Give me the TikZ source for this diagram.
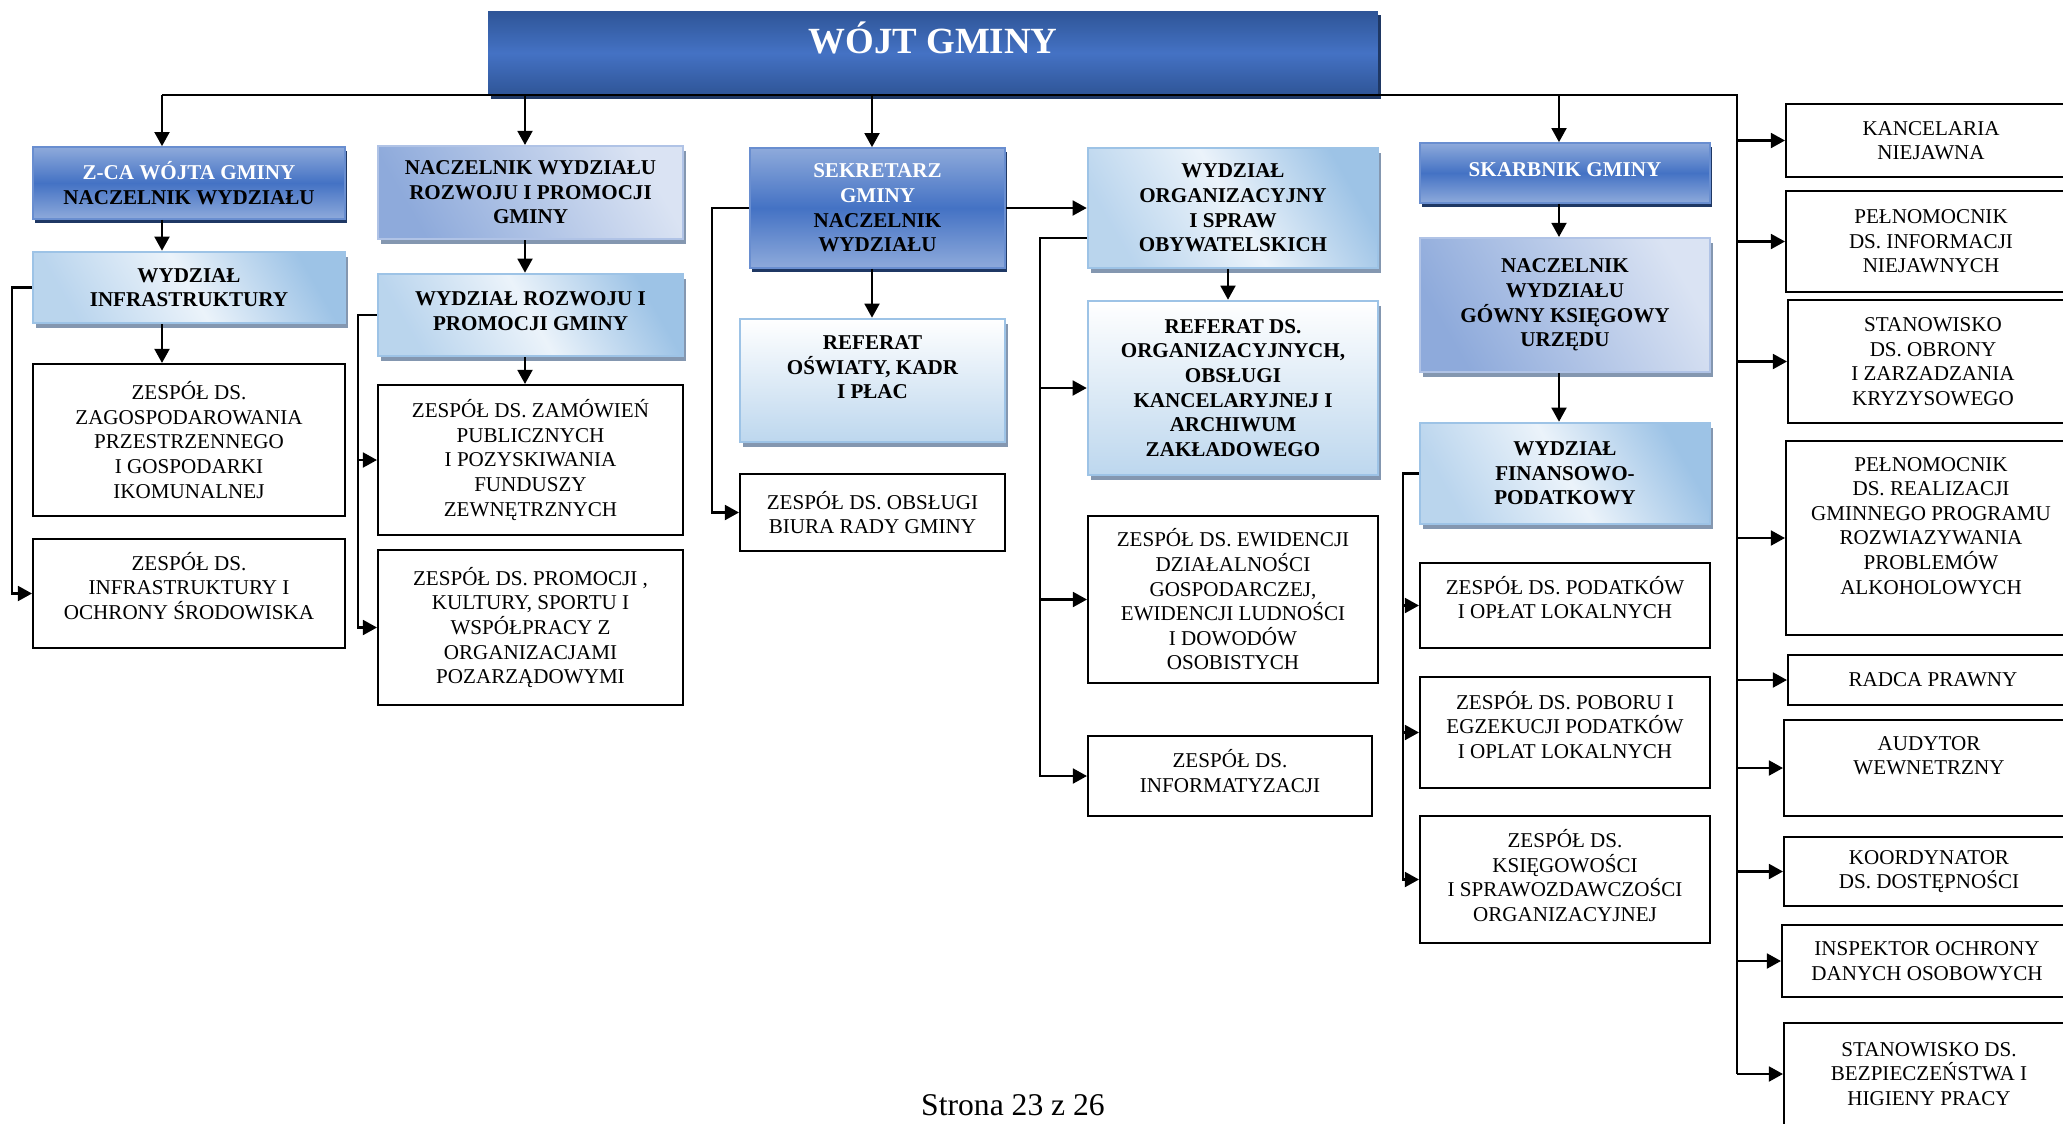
\documentclass[tikz,border=0pt]{standalone}
\usepackage{fontspec}
\setmainfont{Liberation Serif}
\usetikzlibrary{arrows.meta,shadows}
\definecolor{navy}{HTML}{2F5597}
\definecolor{royal}{HTML}{4472C4}
\definecolor{sky}{HTML}{8EAADB}
\definecolor{deep}{HTML}{1F3864}
\definecolor{pale}{HTML}{DEEBF7}
\definecolor{ice}{HTML}{9DC3E6}
\definecolor{lilac}{HTML}{DAE3F3}
\definecolor{steel}{HTML}{8497B0}
\definecolor{mist}{HTML}{BDD7EE}
\begin{document}
\begin{tikzpicture}[x=0.02cm, y=-0.02cm, font=\fontsize{12}{14}\selectfont,
	link/.style={line width=1.2pt},
	arr/.style={line width=1.2pt, -{Triangle[length=8pt,width=8.5pt]}},
	unitbox/.style={draw, line width=1.2pt, align=center, inner sep=2pt},
	chiefbox/.style={top color=navy, bottom color=navy, middle color=royal, text=white,
		font=\fontsize{21}{24}\selectfont\bfseries, inner sep=0pt,
		drop shadow={shadow xshift=0.06cm, shadow yshift=-0.08cm, fill=deep, opacity=1}},
	headbox/.style={draw=royal!80!white, line width=1pt, top color=sky, bottom color=sky, middle color=royal,
		align=center, inner sep=2pt, font=\fontsize{12}{14}\selectfont\bfseries,
		drop shadow={shadow xshift=0.04cm, shadow yshift=-0.08cm, fill=deep, opacity=1}},
	midbox/.style={draw=sky!70!white, line width=1.2pt, top color=sky, bottom color=lilac, shading angle=120,
		align=center, inner sep=2pt, font=\fontsize{12}{14}\selectfont\bfseries,
		drop shadow={shadow xshift=0.06cm, shadow yshift=-0.1cm, fill=steel, opacity=1}},
	deptbox/.style={draw=ice, line width=1.5pt, top color=ice, bottom color=ice!70!white, middle color=pale!60!white,
		shading angle=-60, align=center, inner sep=2pt, font=\fontsize{12}{14}\selectfont\bfseries,
		drop shadow={shadow xshift=0.06cm, shadow yshift=-0.1cm, fill=steel, opacity=1}},
	refbox/.style={draw=ice, line width=1.5pt, top color=white, bottom color=mist,
		align=center, inner sep=2pt, font=\fontsize{12}{14}\selectfont\bfseries,
		drop shadow={shadow xshift=0.06cm, shadow yshift=-0.1cm, fill=steel, opacity=1}}]
	\useasboundingbox (0,0) rectangle (2063,1123);
	\clip (0,0) rectangle (2063,1123);
	%top
	\node[chiefbox, minimum width=17.8cm, minimum height=1.68cm] (wojt) at (933,53) {\smash{WÓJT GMINY}};
	%first column
	\node[headbox, minimum width=6.24cm, minimum height=1.44cm] (zca) at (189,183)
	{\textcolor{white}{Z-CA WÓJTA GMINY}\\NACZELNIK WYDZIAŁU};
	\node[deptbox, minimum width=6.24cm, minimum height=1.42cm] (infra) at (189,287.5)
	{WYDZIAŁ\\INFRASTRUKTURY};
	\node[unitbox, minimum width=6.24cm, minimum height=3.04cm] (zagosp) at (189,440)
	{ZESPÓŁ DS.\\ZAGOSPODAROWANIA\\PRZESTRZENNEGO\\I GOSPODARKI\\IKOMUNALNEJ};
	\node[unitbox, minimum width=6.24cm, minimum height=2.18cm] (ochr) at (189,593.5)
	{ZESPÓŁ DS.\\INFRASTRUKTURY I\\OCHRONY ŚRODOWISKA\\[-5pt]};
	%second column
	\node[midbox, minimum width=6.1cm, minimum height=1.86cm] (naczrozw) at (530.5,192.5)
	{NACZELNIK WYDZIAŁU\\ROZWOJU I PROMOCJI\\GMINY};
	\node[deptbox, minimum width=6.1cm, minimum height=1.64cm] (wydzrozw) at (530.5,315)
	{WYDZIAŁ ROZWOJU I\\PROMOCJI GMINY\\[-9.5pt]};
	\node[unitbox, minimum width=6.1cm, minimum height=3cm] (zamow) at (530.5,460)
	{ZESPÓŁ DS. ZAMÓWIEŃ\\PUBLICZNYCH\\I POZYSKIWANIA\\FUNDUSZY\\ZEWNĘTRZNYCH};
	\node[unitbox, minimum width=6.1cm, minimum height=3.1cm] (promo) at (530.5,627.5)
	{ZESPÓŁ DS. PROMOCJI ,\\KULTURY, SPORTU I\\WSPÓŁPRACY Z\\ORGANIZACJAMI\\POZARZĄDOWYMI};
	%third column
	\node[headbox, minimum width=5.1cm, minimum height=2.4cm] (sekr) at (877.5,208)
	{\textcolor{white}{SEKRETARZ}\\\textcolor{white}{GMINY}\\NACZELNIK\\WYDZIAŁU};
	\node[refbox, minimum width=5.3cm, minimum height=2.46cm] (oswiata) at (872.5,380.5)
	{REFERAT\\OŚWIATY, KADR\\I PŁAC\\[1pt]};
	\node[unitbox, minimum width=5.3cm, minimum height=1.54cm] (biuro) at (872.5,512.5)
	{ZESPÓŁ DS. OBSŁUGI\\BIURA RADY GMINY};
	%fourth column
	\node[deptbox, minimum width=5.8cm, minimum height=2.4cm] (wydzorg) at (1233,208)
	{WYDZIAŁ\\ORGANIZACYJNY\\I SPRAW\\OBYWATELSKICH};
	\node[refbox, minimum width=5.8cm, minimum height=3.48cm] (referg) at (1233,388)
	{REFERAT DS.\\ORGANIZACYJNYCH,\\OBSŁUGI\\KANCELARYJNEJ I\\ARCHIWUM\\ZAKŁADOWEGO};
	\node[unitbox, minimum width=5.8cm, minimum height=3.34cm] (ewid) at (1233,599.5)
	{ZESPÓŁ DS. EWIDENCJI\\DZIAŁALNOŚCI\\GOSPODARCZEJ,\\EWIDENCJI LUDNOŚCI\\I DOWODÓW\\OSOBISTYCH};
	\node[unitbox, minimum width=5.68cm, minimum height=1.6cm] (inform) at (1230,776)
	{ZESPÓŁ DS.\\INFORMATYZACJI\\[-8pt]};
	%fifth column
	\node[headbox, minimum width=5.8cm, minimum height=1.2cm] (skarb) at (1565,173)
	{\textcolor{white}{SKARBNIK GMINY}\\[-9.5pt]};
	\node[midbox, minimum width=5.8cm, minimum height=2.68cm] (naczgk) at (1565,305)
	{NACZELNIK\\WYDZIAŁU\\GÓWNY KSIĘGOWY\\URZĘDU};
	\node[deptbox, minimum width=5.8cm, minimum height=2.02cm] (wydzfin) at (1565,473.5)
	{WYDZIAŁ\\FINANSOWO-\\PODATKOWY};
	\node[unitbox, minimum width=5.8cm, minimum height=1.7cm] (podat) at (1565,605.5)
	{ZESPÓŁ DS. PODATKÓW\\I OPŁAT LOKALNYCH\\[-5pt]};
	\node[unitbox, minimum width=5.8cm, minimum height=2.22cm] (poboru) at (1565,732.5)
	{ZESPÓŁ DS. POBORU I\\EGZEKUCJI PODATKÓW\\I OPLAT LOKALNYCH\\[-5pt]};
	\node[unitbox, minimum width=5.8cm, minimum height=2.54cm] (ksieg) at (1565,879.5)
	{ZESPÓŁ DS.\\KSIĘGOWOŚCI\\I SPRAWOZDAWCZOŚCI\\ORGANIZACYJNEJ\\[-9.5pt]};
	%right column
	\node[unitbox, minimum width=5.8cm, minimum height=1.46cm] (kanc) at (1931,140.5)
	{KANCELARIA\\NIEJAWNA};
	\node[unitbox, minimum width=5.8cm, minimum height=2.02cm] (pelninfo) at (1931,241.5)
	{PEŁNOMOCNIK\\DS. INFORMACJI\\NIEJAWNYCH};
	\node[unitbox, minimum width=5.8cm, minimum height=2.46cm] (obrona) at (1933,361.5)
	{STANOWISKO\\DS. OBRONY\\I ZARZADZANIA\\KRYZYSOWEGO};
	\node[unitbox, minimum width=5.8cm, minimum height=3.88cm] (realiz) at (1931,538)
	{PEŁNOMOCNIK\\DS. REALIZACJI\\GMINNEGO PROGRAMU\\ROZWIAZYWANIA\\PROBLEMÓW\\ALKOHOLOWYCH\\[0pt]};
	\node[unitbox, minimum width=5.8cm, minimum height=1cm] (radca) at (1933,680)
	{RADCA PRAWNY};
	\node[unitbox, minimum width=5.8cm, minimum height=1.92cm] (audytor) at (1929,768)
	{AUDYTOR\\WEWNETRZNY\\[0pt]};
	\node[unitbox, minimum width=5.8cm, minimum height=1.38cm] (koord) at (1929,871.5)
	{KOORDYNATOR\\DS. DOSTĘPNOŚCI};
	\node[unitbox, minimum width=5.8cm, minimum height=1.44cm] (iodo) at (1927,961)
	{INSPEKTOR OCHRONY\\DANYCH OSOBOWYCH};
	\node[unitbox, minimum width=5.8cm, minimum height=2.04cm] (bhp) at (1929,1074)
	{STANOWISKO DS.\\BEZPIECZEŃSTWA I\\HIGIENY PRACY};
	%footer
	\node[font=\fontsize{18}{22}\selectfont] (strona) at (1013,1105) {Strona 23 z 26};
	%bus
	\coordinate (k1) at (162,95);
	\coordinate (k2) at (525,95);
	\coordinate (k3) at (872,95);
	\coordinate (k5) at (1559,95);
	\coordinate (k6) at (1737,95);
	\draw[link] (k1) -- (k6) -- (k6 |- bhp.west);
	%arrows down
	\draw[arr] (k1) -- (k1 |- zca.north);
	\draw[arr] (k1 |- zca.south) -- (k1 |- infra.north);
	\draw[arr] (k1 |- infra.south) -- (k1 |- zagosp.north);
	\draw[arr] (k2) -- (k2 |- naczrozw.north);
	\draw[arr] (k2 |- naczrozw.south) -- (k2 |- wydzrozw.north);
	\draw[arr] (k2 |- wydzrozw.south) -- (k2 |- zamow.north);
	\draw[arr] (k3) -- (k3 |- sekr.north);
	\draw[arr] (k3 |- sekr.south) -- (k3 |- oswiata.north);
	\draw[arr] ([xshift=-0.1cm]wydzorg.south) -- ([xshift=-0.1cm]referg.north);
	\draw[arr] (k5) -- (k5 |- skarb.north);
	\draw[arr] (k5 |- skarb.south) -- (k5 |- naczgk.north);
	\draw[arr] (k5 |- naczgk.south) -- (k5 |- wydzfin.north);
	%side links
	\draw[arr] (infra.west) -- ++(-20,0) |- (ochr.west);
	\draw[arr] (wydzrozw.west) -- ++(-19,0) coordinate (s2) |- (promo.west);
	\draw[arr] (s2 |- zamow.west) -- (zamow.west);
	\draw[arr] (sekr.west) -- ++(-37,0) |- (biuro.west);
	\draw[arr] (sekr.east) -- (wydzorg.west);
	\draw[arr] ([yshift=-0.6cm]wydzorg.west) -- ++(-47,0) coordinate (s4) |- (inform.west);
	\draw[arr] (s4 |- referg.west) -- (referg.west);
	\draw[arr] (s4 |- ewid.west) -- (ewid.west);
	\draw[arr] (wydzfin.west) -- ++(-16,0) coordinate (s5) |- (ksieg.west);
	\draw[arr] (s5 |- podat.west) -- (podat.west);
	\draw[arr] (s5 |- poboru.west) -- (poboru.west);
	\foreach \n in {kanc,pelninfo,obrona,realiz,radca,audytor,koord,iodo,bhp}
	\draw[arr] (k6 |- \n.west) -- (\n.west);
\end{tikzpicture}
\end{document}
